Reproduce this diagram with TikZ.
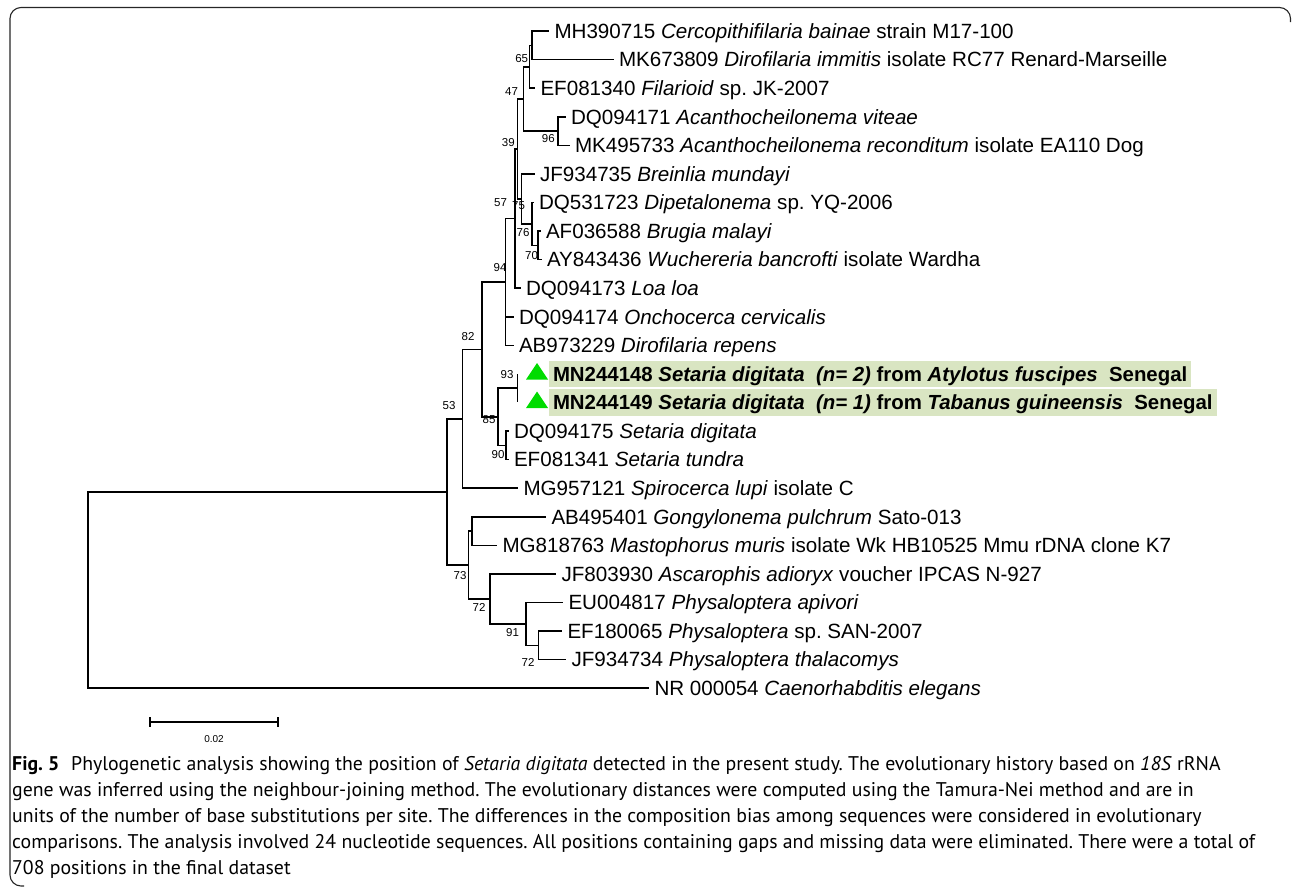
\documentclass[tikz,border=0pt]{standalone}
\usepackage{fontspec}
\setmainfont{Liberation Sans}
\newfontfamily\capfont{PT Sans}
\usetikzlibrary{calc}
\definecolor{hlgreen}{RGB}{217,229,194}
\definecolor{trigreen}{RGB}{0,220,0}
\frenchspacing
\begin{document}
\begin{tikzpicture}[x=1pt,y=-1pt,
  br/.style={line width=1.6pt, black},
  leaf/.style={anchor=west, inner xsep=5.5pt, inner ysep=0pt, outer sep=0pt, text height=14.7pt, text depth=0pt, font=\fontsize{20.6}{22}\selectfont},
  hl/.style={anchor=west, fill=hlgreen, inner xsep=4pt, inner ysep=6pt, outer sep=0pt, text height=14.6pt, text depth=0pt, font=\fontsize{20.4}{22}\selectfont\bfseries},
  bs/.style={inner sep=0pt, font=\fontsize{11.5}{12}\selectfont},
  captxt/.style={anchor=base west, inner sep=0pt, font=\capfont\fontsize{19.8}{22}\selectfont}]
\useasboundingbox (0,0) rectangle (1293,887);
% frame
\draw[line width=1.1pt, black!85, rounded corners=11pt] (1290.5,22) -- (1290.5,7.5) -- (10,7.5) -- (10,886) -- (24,886);

% internal nodes
\coordinate (nA)  at (531.7,45.3);
\coordinate (nB)  at (529.3,66.7);
\coordinate (nD)  at (558,131.0);
\coordinate (nC)  at (523.3,98.9);
\coordinate (n70) at (538,245.3);
\coordinate (nF)  at (531.7,223.9);
\coordinate (nY)  at (521.5,198.9);
\coordinate (nE)  at (517.5,148.9);
\coordinate (n57) at (515,218.5);
\coordinate (n94) at (505.5,281.9);
\coordinate (n93) at (517.3,388.2);
\coordinate (n90) at (505.7,445.3);
\coordinate (n85) at (498,416.7);
\coordinate (n82) at (482,349.3);
\coordinate (n53) at (462.3,418.7);
\coordinate (nG)  at (471.7,531.0);
\coordinate (n72b) at (538.3,645.3);
\coordinate (n91) at (526,623.9);
\coordinate (n72a) at (490,598.9);
\coordinate (n73) at (468.3,565.0);
\coordinate (nR2) at (446.7,491.9);
\coordinate (root) at (88,590.0);
\coordinate (t13) at (517.3,373.9);
\coordinate (t14) at (517.3,402.4);

% leaves
\node[leaf] (l1) at (549,31.0) {MH390715 \textit{Cercopithifilaria bainae} strain M17-100};
\node[leaf] (l2) at (613.5,59.6) {MK673809 \textit{Dirofilaria immitis} isolate RC77 Renard-Marseille};
\node[leaf] (l3) at (535,88.1) {EF081340 \textit{Filarioid} sp. JK-2007};
\node[leaf] (l4) at (565.5,116.7) {DQ094171 \textit{Acanthocheilonema viteae}};
\node[leaf] (l5) at (569.5,145.3) {MK495733 \textit{Acanthocheilonema reconditum} isolate EA110 Dog};
\node[leaf] (l6) at (534.5,173.9) {JF934735 \textit{Breinlia mundayi}};
\node[leaf] (l7) at (533.5,202.4) {DQ531723 \textit{Dipetalonema} sp. YQ-2006};
\node[leaf] (l8) at (540.5,231.0) {AF036588 \textit{Brugia malayi}};
\node[leaf] (l9) at (541.5,259.6) {AY843436 \textit{Wuchereria bancrofti} isolate Wardha};
\node[leaf] (l10) at (520.5,288.1) {DQ094173 \textit{Loa loa}};
\node[leaf] (l11) at (513.5,316.7) {DQ094174 \textit{Onchocerca cervicalis}};
\node[leaf] (l12) at (513.5,345.3) {AB973229 \textit{Dirofilaria repens}};
\node[hl] (l13) at (549,373.9) {MN244148 \textit{Setaria digitata}\ \ \textit{(n= 2)} from \textit{Atylotus fuscipes}\ \ Senegal};
\node[hl] (l14) at (549,402.4) {MN244149 \textit{Setaria digitata}\ \ \textit{(n= 1)} from \textit{Tabanus guineensis}\ \ Senegal};
\node[leaf] (l15) at (508.5,431.0) {DQ094175 \textit{Setaria digitata}};
\node[leaf] (l16) at (508.5,459.6) {EF081341 \textit{Setaria tundra}};
\node[leaf] (l17) at (518,488.1) {MG957121 \textit{Spirocerca lupi} isolate C};
\node[leaf] (l18) at (546,516.7) {AB495401 \textit{Gongylonema pulchrum} Sato-013};
\node[leaf] (l19) at (497,545.3) {MG818763 \textit{Mastophorus muris} isolate Wk HB10525 Mmu rDNA clone K7};
\node[leaf] (l20) at (556,573.9) {JF803930 \textit{Ascarophis adioryx} voucher IPCAS N-927};
\node[leaf] (l21) at (563,602.4) {EU004817 \textit{Physaloptera apivori}};
\node[leaf] (l22) at (562,631.0) {EF180065 \textit{Physaloptera} sp. SAN-2007};
\node[leaf] (l23) at (566,659.6) {JF934734 \textit{Physaloptera thalacomys}};
\node[leaf] (l24) at (649,688.1) {NR 000054 \textit{Caenorhabditis elegans}};

% triangles
\fill[trigreen] (526,379.5) -- (548,379.5) -- (537,363) -- cycle;
\fill[trigreen] (526,408) -- (548,408) -- (537,391.5) -- cycle;

% branches
\draw[br] (nA) |- (l1); \draw[br] (nA) |- (l2);
\draw[br] (nB) |- (nA); \draw[br] (nB) |- (l3);
\draw[br] (nD) |- (l4); \draw[br] (nD) |- (l5);
\draw[br] (nC) |- (nB); \draw[br] (nC) |- (nD);
\draw[br] (n70) |- (l8); \draw[br] (n70) |- (l9);
\draw[br] (nF) |- (l7); \draw[br] (nF) |- (n70);
\draw[br] (nY) |- (l6); \draw[br] (nY) |- (nF);
\draw[br] (nE) |- (nC); \draw[br] (nE) |- (nY);
\draw[br] (n57) |- (nE); \draw[br] (n57) |- (l10);
\draw[br] (n94) |- (n57); \draw[br] (n94) |- (l11); \draw[br] (n94) |- (l12);
\draw[br] (n93) -- (t13); \draw[br] (n93) -- (t14);
\draw[br] (n90) |- (l15); \draw[br] (n90) |- (l16);
\draw[br] (n85) |- (n93); \draw[br] (n85) |- (n90);
\draw[br] (n82) |- (n94); \draw[br] (n82) |- (n85);
\draw[br] (n53) |- (n82); \draw[br] (n53) |- (l17);
\draw[br] (nG) |- (l18); \draw[br] (nG) |- (l19);
\draw[br] (n72b) |- (l22); \draw[br] (n72b) |- (l23);
\draw[br] (n91) |- (l21); \draw[br] (n91) |- (n72b);
\draw[br] (n72a) |- (l20); \draw[br] (n72a) |- (n91);
\draw[br] (n73) |- (nG); \draw[br] (n73) |- (n72a);
\draw[br] (nR2) |- (n53); \draw[br] (nR2) |- (n73);
\draw[br] (root) |- (nR2); \draw[br] (root) |- (l24);

% bootstrap values
\node[bs] (b65) at (521.7,58.3) {65};
\node[bs] (b47) at (511.5,91.7) {47};
\node[bs] (b96) at (548.3,138.3) {96};
\node[bs] (b39) at (508.3,142.7) {39};
\node[bs] (b57) at (500.5,203) {57};
\node[bs] (b75) at (518.5,206) {75};
\node[bs] (b76) at (523,233) {76};
\node[bs] (b70) at (531.5,256) {70};
\node[bs] (b94) at (500,268) {94};
\node[bs] (b82) at (468,337) {82};
\node[bs] (b93) at (507,375) {93};
\node[bs] (b53) at (449,406) {53};
\node[bs] (b85) at (489,420) {85};
\node[bs] (b90) at (498,455) {90};
\node[bs] (b73) at (460,576) {73};
\node[bs] (b72a) at (479,607) {72};
\node[bs] (b91) at (512.5,633) {91};
\node[bs] (b72b) at (528,662) {72};

% scale bar
\coordinate (sbL) at (150,722);
\coordinate (sbR) at (278,722);
\draw[line width=1.1pt] (sbL) -- (sbR);
\draw[line width=1.1pt] ($(sbL)+(0,-5)$) -- ($(sbL)+(0,5)$);
\draw[line width=1.1pt] ($(sbR)+(0,-5)$) -- ($(sbR)+(0,5)$);
\node[inner sep=0pt, font=\fontsize{10}{11}\selectfont] (sbt) at (214,739) {0.02};

% caption
\node[captxt] (c1) at (12,770) {\textbf{Fig. 5}\hspace{0.6em}Phylogenetic analysis showing the position of \textit{Setaria digitata} detected in the present study. The evolutionary history based on \textit{18S} rRNA};
\node[captxt] (c2) at (12,796) {gene was inferred using the neighbour-joining method. The evolutionary distances were computed using the Tamura-Nei method and are in};
\node[captxt] (c3) at (12,822) {units of the number of base substitutions per site. The differences in the composition bias among sequences were considered in evolutionary};
\node[captxt] (c4) at (12,848) {comparisons. The analysis involved 24 nucleotide sequences. All positions containing gaps and missing data were eliminated. There were a total of};
\node[captxt] (c5) at (12,874) {708 positions in the final dataset};
\end{tikzpicture}
\end{document}
